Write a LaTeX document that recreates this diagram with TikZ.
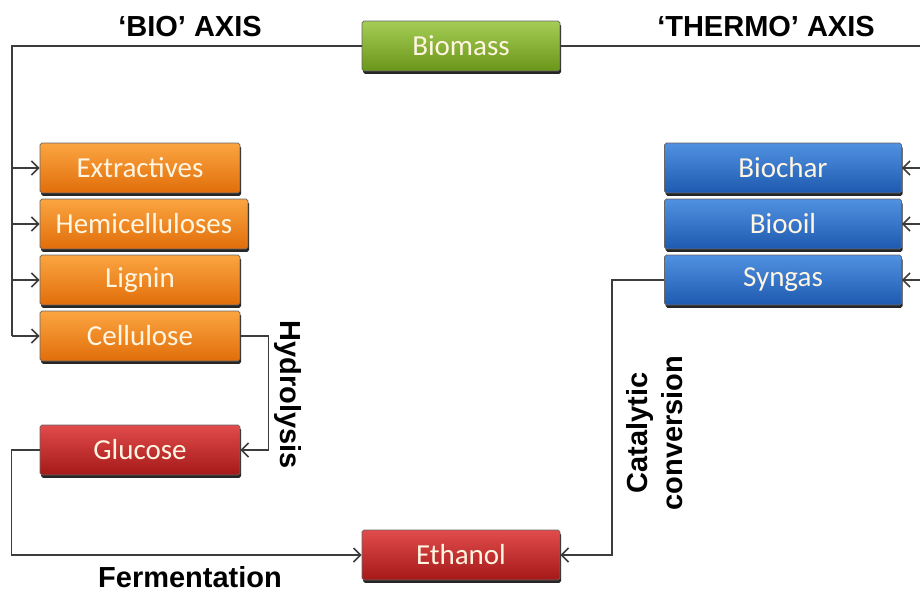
\documentclass[tikz,border=0pt]{standalone}
\usepackage{fontspec}
\setmainfont{Carlito}
\newfontfamily\axisfont{Liberation Sans}
\usetikzlibrary{calc, shapes, shadows, arrows.meta}
\definecolor{leaftop}{RGB}{165,205,85}
\definecolor{leafbot}{RGB}{105,150,25}
\definecolor{ambertop}{RGB}{250,165,65}
\definecolor{amberbot}{RGB}{225,110,10}
\definecolor{skytop}{RGB}{80,145,225}
\definecolor{skybot}{RGB}{30,90,175}
\definecolor{brickttop}{RGB}{225,75,75}
\definecolor{brickbot}{RGB}{165,25,25}
\definecolor{paletext}{RGB}{255,245,225}
\definecolor{wire}{RGB}{60,60,60}

\begin{document}
\begin{tikzpicture}[x=0.02cm, y=-0.02cm, >={Straight Barb[length=4pt, width=8pt, line width=0.9pt]}]
	\tikzstyle{stage}=[rectangle, draw=black!60, rounded corners=1pt, thin,
	text=paletext, minimum height=1cm, font=\fontsize{16.5}{19}\selectfont,
	drop shadow={shadow xshift=0.6pt, shadow yshift=-1.6pt, opacity=0.85, fill=black}]
	\tikzstyle{source}=[stage, top color=leaftop, bottom color=leafbot, minimum width=3.96cm]
	\tikzstyle{fraction}=[stage, top color=ambertop, bottom color=amberbot, minimum width=4cm]
	\tikzstyle{pyrolysis}=[stage, top color=skytop, bottom color=skybot, minimum width=4.74cm]
	\tikzstyle{fuel}=[stage, top color=brickttop, bottom color=brickbot, minimum width=4cm]
	\tikzstyle{axislabel}=[font=\axisfont\bfseries\fontsize{16.5}{20}\selectfont, align=center]
	\tikzstyle{wire}=[draw=wire, line width=0.9pt]

	\useasboundingbox (0,0) rectangle (920,592);

	\node[source] at (461,46) (biomass) {Biomass};

	\node[fraction] at (140,168) (extractives) {Extractives};
	\node[fraction, minimum width=4.16cm] at (144,224) (hemi) {Hemicelluloses};
	\node[fraction] at (140,280) (lignin) {Lignin};
	\node[fraction] at (140,336) (cellulose) {Cellulose};
	\node[fuel] at (140,450) (glucose) {Glucose};
	\node[fuel, minimum width=3.96cm] at (461,555) (ethanol) {Ethanol};

	\node[pyrolysis] at (783,168) (biochar) {Biochar};
	\node[pyrolysis] at (783,224) (biooil) {Biooil};
	\node[pyrolysis] at (783,280) (syngas) {Syngas};

	\node[axislabel] at (190,27) (bioaxis) {‘BIO’ AXIS};
	\node[axislabel] at (766,27) (thermoaxis) {‘THERMO’ AXIS};
	\node[axislabel, rotate=-90] at (288,395) (hydrolysis) {Hydrolysis};
	\node[axislabel] at (190,577) (fermentation) {Fermentation};
	\node[axislabel, rotate=90] at (655,433) (catalytic) {Catalytic\\conversion};

	\coordinate (lcorner) at (12,46);
	\coordinate (rcorner) at (935,46);

	% bio axis
	\draw[wire] (biomass.west) -- (lcorner) -- (lcorner |- cellulose.west);
	\foreach \part in {extractives, hemi, lignin, cellulose}
		\draw[wire, ->] (lcorner |- \part.west) -- (\part.west);

	% thermo axis
	\draw[wire] (biomass.east) -- (rcorner) -- (rcorner |- syngas.east);
	\foreach \part in {biochar, biooil, syngas}
		\draw[wire, ->] (rcorner |- \part.east) -- (\part.east);

	\draw[wire, ->] (cellulose.east) -- ++(28,0) |- (glucose.east);
	\draw[wire, ->] (glucose.west) -- ++(-28,0) |- (ethanol.west);
	\draw[wire, ->] (syngas.west) -- ++(-52,0) |- (ethanol.east);
\end{tikzpicture}
\end{document}
